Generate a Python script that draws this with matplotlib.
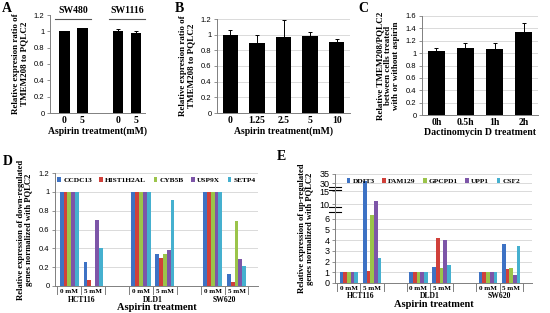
import numpy as np
import matplotlib
matplotlib.use('Agg')
import matplotlib.pyplot as plt
import matplotlib.transforms as mtransforms

#Chart data
a_labels = ['0', '5', '0', '5']
a_cells = ['SW480', 'SW1116']
a_vals = [1.0, 1.035, 1.0, 0.98]
a_err = [0.005, 0.01, 0.03, 0.03]

b_labels = ['0', '1.25', '2.5', '5', '10']
b_vals = [1.0, 0.90, 0.97, 0.98, 0.91]
b_err = [0.06, 0.09, 0.22, 0.06, 0.03]

c_labels = ['0h', '0.5h', '1h', '2h']
c_vals = [1.03, 1.09, 1.07, 1.34]
c_err = [0.05, 0.08, 0.09, 0.14]

cell_lines = ['HCT116', 'DLD1', 'SW620']
doses = ['0 mM', '5 mM']

d_genes = ['CCDC13', 'HIST1H2AL', 'CYB5B', 'USP9X', 'SETP4']
d_ccdc13 = [1, 0.26, 1, 0.34, 1, 0.13]
d_hist1h2al = [1, 0.06, 1, 0.30, 1, 0.04]
d_cyb5b = [1, 0.0, 1, 0.34, 1, 0.69]
d_usp9x = [1, 0.70, 1, 0.38, 1, 0.29]
d_setp4 = [1, 0.40, 1, 0.91, 1, 0.21]

e_genes = ['DDIT3', 'FAM129', 'GPCPD1', 'UPP1', 'CSF2']
e_ddit3 = [1, 31.1, 1, 1.5, 1, 3.6]
e_fam129 = [1, 1.15, 1, 4.2, 1, 1.3]
e_gpcpd1 = [1, 6.9, 1, 1.4, 1, 1.4]
e_upp1 = [1, 11.1, 1, 4.0, 1, 0.75]
e_csf2 = [1, 2.35, 1, 1.7, 1, 3.45]
e_ticks = [0, 1, 2, 3, 4, 5, 6, 10, 15, 30, 35]

colors = ['#3d72c4', '#d0403a', '#9bc44a', '#7d55a8', '#45b0cf']
serif = 'Liberation Serif'
sans = 'Liberation Sans'
spine_col = '#808080'

W, H = 550, 313
fig = plt.figure(figsize=(5.5, 3.13), dpi=100)


def add_ax(l, t, r, b):
    #pixel box -> figure fraction
    return fig.add_axes([l / W, 1 - b / H, (r - l) / W, (b - t) / H])


def style(ax, grid=True):
    for s in ['top', 'right']:
        ax.spines[s].set_visible(False)
    for s in ['left', 'bottom']:
        ax.spines[s].set_color(spine_col)
        ax.spines[s].set_linewidth(0.7)
    ax.tick_params(axis='y', length=2, width=0.6, color=spine_col, pad=2, labelsize=5.5)
    ax.tick_params(axis='x', length=0, pad=2)
    for t in ax.get_yticklabels():
        t.set_fontfamily(sans)
    if grid:
        ax.yaxis.grid(True, color='#d4d4d4', linewidth=0.6)
        ax.set_axisbelow(True)


def bold(size):
    return dict(fontfamily=serif, fontweight='bold', fontsize=size)


#Panel A
axA = add_ax(50, 15, 145, 113)
xa = [0, 1, 3, 4]
axA.bar(xa, a_vals, width=0.6, color='black', yerr=a_err, capsize=1.2,
        error_kw=dict(elinewidth=0.7, ecolor='black', capthick=0.7))
axA.set_xlim(-0.8, 4.5)
axA.set_ylim(0, 1.2)
axA.set_yticks(np.arange(0, 1.21, 0.2))
axA.set_yticklabels(['0', '0.2', '0.4', '0.6', '0.8', '1', '1.2'])
axA.set_xticks(xa)
axA.set_xticklabels(a_labels, **bold(7))
style(axA, grid=False)
axA.set_xlabel('Aspirin treatment(mM)', labelpad=1, **bold(7))
axA.set_ylabel('Relative expresion ratio of\nTMEM208 to PQLC2', labelpad=4, linespacing=1.0, **bold(6.5))
for cx, name in zip([0.5, 3.5], a_cells):
    axA.plot([cx - 1.0, cx + 1.0], [1.15, 1.15], color='#555555', lw=0.8, clip_on=False)
    axA.text(cx, 1.2, name, ha='center', va='bottom', **bold(7))

#Panel B
axB = add_ax(217, 19, 350, 113)
xb = np.arange(len(b_vals))
axB.bar(xb, b_vals, width=0.58, color='black', yerr=b_err, capsize=1.2,
        error_kw=dict(elinewidth=0.7, ecolor='black', capthick=0.7))
axB.set_xlim(-0.5, len(b_vals) - 0.5)
axB.set_ylim(0, 1.2)
axB.set_yticks(np.arange(0, 1.21, 0.2))
axB.set_yticklabels(['0', '0.2', '0.4', '0.6', '0.8', '1', '1.2'])
axB.set_xticks(xb)
axB.set_xticklabels(b_labels, **bold(7))
style(axB)
axB.set_xlabel('Aspirin treatment(mM)', labelpad=1, **bold(7))
axB.set_ylabel('Relative expresion ratio of\nTMEM208 to PQLC2', labelpad=4, linespacing=1.0, **bold(6.5))

#Panel C
axC = add_ax(422, 16, 538, 115)
xc = np.arange(len(c_vals))
axC.bar(xc, c_vals, width=0.6, color='black', yerr=c_err, capsize=1.2,
        error_kw=dict(elinewidth=0.7, ecolor='black', capthick=0.7))
axC.set_xlim(-0.5, len(c_vals) - 0.5)
axC.set_ylim(0, 1.6)
axC.set_yticks(np.arange(0, 1.61, 0.2))
axC.set_yticklabels(['0', '0.2', '0.4', '0.6', '0.8', '1', '1.2', '1.4', '1.6'])
axC.set_xticks(xc)
axC.set_xticklabels(c_labels, **bold(7))
style(axC)
axC.set_xlabel('Dactinomycin D treatment', labelpad=1, **bold(7))
axC.set_ylabel('Relative TMEM208/PQLC2\nbetween cells treated\nwith or without aspirin',
               labelpad=4, linespacing=1.0, **bold(6.5))

#Panels D and E: grouped bars with two-level category axis
pos = np.array([0, 1, 3, 4, 6, 7])
bw = 0.16


def grouped(ax, series, genes):
    for i, (vals, g) in enumerate(zip(series, genes)):
        ax.bar(pos + (i - 2) * bw, vals, width=bw, color=colors[i], label=g)
    ax.set_xlim(-0.6, 7.9)
    ax.set_xticks(pos)
    ax.set_xticklabels(doses * 3, **bold(5))
    ax.tick_params(axis='x', pad=1.5)
    trans = mtransforms.blended_transform_factory(ax.transData, ax.transAxes)
    for start in [0, 3, 6]:
        for sx in [start - 0.5, start + 0.5, start + 1.5]:
            ax.plot([sx, sx], [0, -0.075], color=spine_col, lw=0.7,
                    transform=trans, clip_on=False)
    for start, name in zip([0, 3, 6], cell_lines):
        ax.text(start + 0.5, -0.085, name, transform=trans, ha='center', va='top', **bold(5.5))
    ax.legend(loc='upper center', ncol=5, frameon=False,
              prop=dict(family=serif, weight='bold', size=5.3),
              handlelength=0.5, handleheight=0.5, handletextpad=0.3,
              columnspacing=1.0, borderaxespad=0.2, bbox_to_anchor=(0.5, 1.0))


axD = add_ax(55, 173, 258, 286)
grouped(axD, [d_ccdc13, d_hist1h2al, d_cyb5b, d_usp9x, d_setp4], d_genes)
axD.set_ylim(0, 1.2)
axD.set_yticks(np.arange(0, 1.21, 0.2))
axD.set_yticklabels(['0', '0.2', '0.4', '0.6', '0.8', '1', '1.2'])
style(axD)
axD.tick_params(axis='x', length=0)
axD.set_xlabel('Aspirin treatment', **bold(7.5))
axD.xaxis.set_label_coords(0.5, -0.15)
axD.set_ylabel('Relative expression of down-regulated\ngenes normalized with PQLC2',
               labelpad=4, linespacing=1.0, **bold(6.2))

#broken axis for E, piecewise linear
e_knots = [0, 6, 10, 15, 30, 35]
e_place = [0, 6, 7.35, 8.53, 9.31, 10.16]


def fwd(v):
    return np.interp(v, e_knots, e_place)


def inv(p):
    return np.interp(p, e_place, e_knots)


axE = add_ax(335, 174, 532, 283)
axE.set_yscale('function', functions=(fwd, inv))
grouped(axE, [e_ddit3, e_fam129, e_gpcpd1, e_upp1, e_csf2], e_genes)
axE.set_ylim(0, 35)
axE.set_yticks(e_ticks)
axE.set_yticklabels([str(t) for t in e_ticks])
axE.yaxis.set_minor_locator(matplotlib.ticker.NullLocator())
style(axE)
axE.tick_params(axis='y', labelsize=6.5)
axE.tick_params(axis='x', length=0)
axE.set_xlabel('Aspirin treatment', **bold(7.5))
axE.xaxis.set_label_coords(0.5, -0.16)
axE.set_ylabel('Relative expression of up-regulated\ngenes normalized with PQLC2',
               labelpad=4, linespacing=1.0, **bold(6.2))
ytrans = mtransforms.blended_transform_factory(axE.transAxes, axE.transData)
for lo, hi in [(7.8, 9.2), (18.5, 22.5)]:
    axE.plot([0, 0], [lo, hi], color='white', lw=1.5, transform=ytrans, clip_on=False)
    for yv in [lo, hi]:
        axE.plot([-0.03, 0.03], [yv, yv], color='black', lw=0.8, transform=ytrans, clip_on=False)

#panel letters
for x, y, s in [(2, 2, 'A'), (175, 2, 'B'), (358, 2, 'C'), (3, 155, 'D'), (277, 150, 'E')]:
    fig.text(x / W, 1 - y / H, s, ha='left', va='top', **bold(10))

fig.savefig('out.png', dpi=100)
